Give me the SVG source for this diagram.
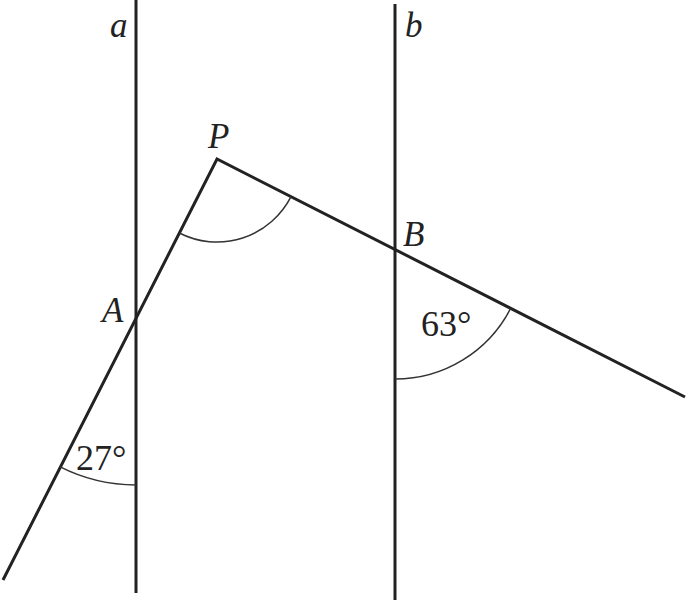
<svg xmlns="http://www.w3.org/2000/svg" width="687" height="600" viewBox="0 0 687 600">
<style>
.ln{stroke:#222;stroke-width:3;fill:none;stroke-linecap:butt}
.arc{stroke:#333;stroke-width:1.5;fill:none}
.lbl{font-family:"Liberation Serif","Times New Roman",serif;font-style:italic;font-size:35px;fill:#222}
.num{font-family:"Liberation Serif","Times New Roman",serif;font-size:36px;fill:#222}
</style>
<rect width="687" height="600" fill="#fff"/>
<g id="connectors">
<path class="ln" d="M136,0 L136,593"/>
<path class="ln" d="M395,4 L395,600"/>
<path class="ln" d="M3,580 L217,159 L685,397"/>
</g>
<g id="angles">
<path class="arc" d="M179.3,233 A83,83 0 0 0 291,196.7"/>
<path class="arc" d="M395,379 A130,130 0 0 0 510.8,308"/>
<path class="arc" d="M59.7,466.7 A168,168 0 0 0 136,485"/>
</g>
<g id="labels">
<text class="lbl" x="110" y="37">a</text>
<text class="lbl" x="405" y="37">b</text>
<text class="lbl" x="208" y="148">P</text>
<text class="lbl" x="102" y="322">A</text>
<text class="lbl" x="403" y="246">B</text>
<text class="num" x="421" y="336">63°</text>
<text class="num" x="76" y="470">27°</text>
</g>
</svg>
